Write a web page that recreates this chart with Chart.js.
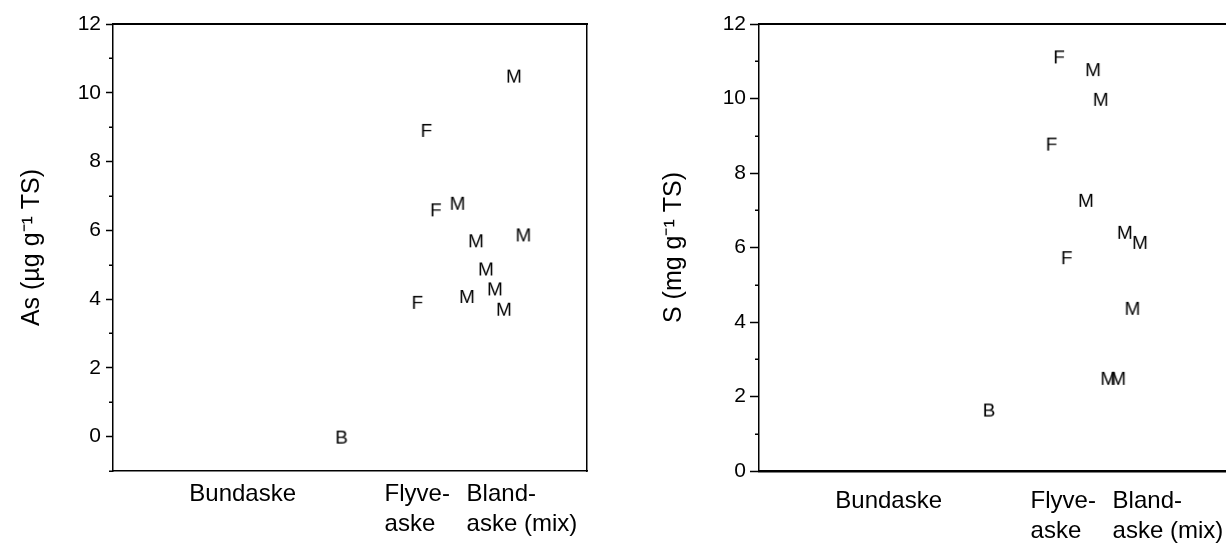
<!DOCTYPE html>
<html><head><meta charset="utf-8">
<script src="https://cdn.jsdelivr.net/npm/chart.js@4"></script>
<style>
html,body{margin:0;padding:0;background:#fff;overflow:hidden;width:1226px;height:545px;}
.wrap{position:absolute;top:0;width:600px;height:545px;}
#w1{left:0}
#w2{left:646px}
canvas{display:block}
</style></head><body>
<div class="wrap" id="w1"><canvas id="c1" width="600" height="545"></canvas></div>
<div class="wrap" id="w2"><canvas id="c2" width="600" height="545"></canvas></div>
<script>
// Category labels on the x axis and where they sit (x-axis units 0..100)
const categories = [['Bundaske'], ['Flyve-', 'aske'], ['Bland-', 'aske (mix)']];
const categoryPositions = [16.1, 57.3, 74.6];

// Y tick values
const asMajorTicks = [0, 2, 4, 6, 8, 10, 12];
const asMinorTicks = [-1, 1, 3, 5, 7, 9, 11];
const sMajorTicks = [0, 2, 4, 6, 8, 10, 12];
const sMinorTicks = [1, 3, 5, 7, 9, 11];

// As (µg g-1 TS)
const asB_x = [48.2];
const asB_y = [0.0];
const asF_x = [66.1, 68.1, 64.2];
const asF_y = [8.92, 6.61, 3.92];
const asM_x = [84.6, 72.7, 76.6, 86.6, 78.7, 80.6, 74.7, 82.5];
const asM_y = [10.50, 6.80, 5.71, 5.88, 4.89, 4.31, 4.09, 3.72];

// S (mg g-1 TS)
const sB_x = [48.5];
const sB_y = [1.65];
const sF_x = [63.3, 61.7, 64.9];
const sF_y = [11.13, 8.79, 5.74];
const sM_x = [70.5, 72.1, 69.0, 77.2, 80.4, 78.8, 73.7, 75.8];
const sM_y = [10.79, 9.99, 7.28, 6.42, 6.15, 4.38, 2.50, 2.50];

const FONT = "'Liberation Sans', Arial, Helvetica, sans-serif";

function letterCanvas(ch) {
  const c = document.createElement('canvas');
  c.width = 26; c.height = 26;
  const g = c.getContext('2d');
  g.font = '19px ' + FONT;
  g.fillStyle = '#000';
  g.textAlign = 'center';
  g.textBaseline = 'alphabetic';
  g.fillText(ch, 13, 13 + 0.358 * 19);
  return c;
}

function pts(xs, ys) { return xs.map((x, i) => ({x: x, y: ys[i]})); }

const minorTickPlugin = {
  id: 'minorTicks',
  afterDraw(chart, args, opts) {
    const ys = chart.scales.y;
    const ctx = chart.ctx;
    ctx.save();
    ctx.strokeStyle = '#000';
    ctx.lineWidth = 1.5;
    opts.values.forEach(v => {
      const py = Math.round(ys.getPixelForValue(v)) + 0.25;
      ctx.beginPath();
      ctx.moveTo(chart.chartArea.left - opts.length, py);
      ctx.lineTo(chart.chartArea.left, py);
      ctx.stroke();
    });
    ctx.restore();
  }
};

function makeChart(id, o) {
  const ds = (label, ch, data) => ({
    label: label, data: data, pointStyle: letterCanvas(ch), pointRadius: 6,
    pointHoverRadius: 6, showLine: false, borderColor: '#000', backgroundColor: '#000'
  });
  return new Chart(document.getElementById(id), {
    type: 'scatter',
    data: { datasets: [ds('B', 'B', o.b), ds('F', 'F', o.f), ds('M', 'M', o.m)] },
    plugins: [minorTickPlugin],
    options: {
      responsive: false, animation: false, events: [],
      layout: { padding: { top: 24, right: 13, bottom: 0, left: 0 } },
      plugins: { legend: { display: false }, tooltip: { enabled: false },
        minorTicks: { values: o.minor, length: 4 } },
      scales: {
        x: {
          type: 'linear', position: 'bottom', min: 0, max: 100,
          afterBuildTicks: s => { s.ticks = categoryPositions.map(v => ({value: v})); },
          afterFit: s => { s.height = 74; },
          grid: { display: false, drawTicks: false },
          border: { display: true, color: '#000', width: o.bottomWidth },
          ticks: { align: 'start', padding: o.xPad, color: '#000', autoSkip: false, maxRotation: 0,
            font: { family: FONT, size: 24, lineHeight: 1.23 },
            callback: (v, i) => categories[i] }
        },
        x2: {
          type: 'linear', position: 'top', min: 0, max: 100,
          afterFit: s => { s.height = 0; },
          grid: { display: false, drawTicks: false },
          border: { display: true, color: '#000', width: 2 },
          ticks: { display: false }
        },
        y: {
          type: 'linear', position: 'left', min: o.ymin, max: 12,
          afterBuildTicks: s => { s.ticks = o.major.map(v => ({value: v})); },
          afterFit: s => { s.width = 113; },
          grid: { display: true, drawOnChartArea: false, drawTicks: true, tickLength: o.tickLen,
            tickColor: '#000', tickWidth: 1.5 },
          border: { display: true, color: '#000', width: 1.5 },
          ticks: { padding: o.yPad, color: '#000', font: { family: FONT, size: 21 } },
          title: { display: true, text: o.title, color: '#000',
            font: { family: FONT, size: 25 }, padding: { top: o.titlePad, bottom: 0 } }
        },
        y2: {
          type: 'linear', position: 'right', min: o.ymin, max: 12,
          afterFit: s => { s.width = 0; },
          grid: { display: false, drawTicks: false },
          border: { display: true, color: '#000', width: 1.5 },
          ticks: { display: false }
        }
      }
    }
  });
}

makeChart('c1', {
  b: pts(asB_x, asB_y), f: pts(asF_x, asF_y), m: pts(asM_x, asM_y),
  major: asMajorTicks, minor: asMinorTicks, ymin: -1,
  title: 'As (µg g⁻¹ TS)', titlePad: 17, xPad: 9, yPad: 5, tickLen: 7, bottomWidth: 1.5
});
makeChart('c2', {
  b: pts(sB_x, sB_y), f: pts(sF_x, sF_y), m: pts(sM_x, sM_y),
  major: sMajorTicks, minor: sMinorTicks, ymin: 0,
  title: 'S (mg g⁻¹ TS)', titlePad: 13, xPad: 16, yPad: 4, tickLen: 9, bottomWidth: 2.5
});
</script>
</body></html>
